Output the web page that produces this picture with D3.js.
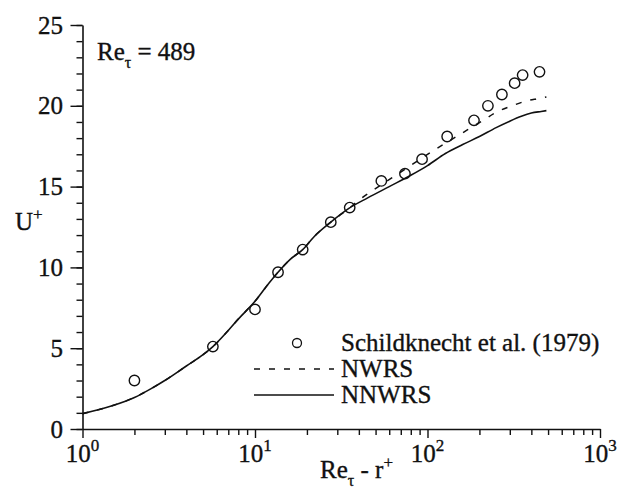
<!DOCTYPE html>
<html>
<head>
<meta charset="utf-8">
<script src="https://cdn.jsdelivr.net/npm/d3@7/dist/d3.min.js"></script>
<style>
  html, body { margin: 0; padding: 0; background: #fff; }
  svg { display: block; }
  text { font-family: "Liberation Serif", "Times New Roman", Times, serif; fill: #111; stroke: #111; stroke-width: 0.35px; }
</style>
</head>
<body>
<svg id="chart" width="620" height="489"></svg>
<script>
// Mean velocity profile in wall units, pipe flow at Re_tau = 489

// Measurements (open circles)
const obsX = [2.0, 5.7, 10.0, 13.6, 18.9, 27.5, 35.4, 54, 74, 93, 130, 186, 224, 270, 320, 356, 446];
const obsU = [3.0, 5.1, 7.4, 9.7, 11.1, 12.8, 13.7, 15.35, 15.8, 16.7, 18.1, 19.1, 20.0, 20.7, 21.4, 21.9, 22.1];

// NNWRS model (solid)
const nnwrsX = [1, 1.5, 2, 2.5, 3, 4, 5, 5.7, 7, 8, 10, 12, 13.6, 16, 18.9, 22, 27.5, 35, 45, 60, 80, 100, 127, 160, 200, 250, 300, 350, 400, 456, 489];
const nnwrsU = [0.95, 1.45, 1.95, 2.5, 3.0, 3.9, 4.6, 5.1, 6.1, 6.8, 7.9, 9.0, 9.7, 10.5, 11.1, 11.9, 12.8, 13.65, 14.3, 15.0, 15.7, 16.3, 17.05, 17.6, 18.1, 18.65, 19.05, 19.35, 19.55, 19.65, 19.7];

// NWRS model (dashed)
const nwrsX = [1, 1.5, 2, 2.5, 3, 4, 5, 5.7, 7, 8, 10, 12, 13.6, 16, 18.9, 22, 27.5, 35, 41, 52, 70, 100, 150, 210, 250, 300, 375, 440, 489];
const nwrsU = [0.95, 1.45, 1.95, 2.5, 3.0, 3.9, 4.6, 5.1, 6.1, 6.8, 7.9, 9.0, 9.7, 10.5, 11.1, 11.9, 12.8, 13.65, 14.25, 15.0, 15.9, 17.0, 18.15, 19.1, 19.6, 19.95, 20.3, 20.45, 20.55];

// Axis ticks
const xMajor = [1, 10, 100, 1000];
const xMajorExp = ["0", "1", "2", "3"];
const xMinor = [2,3,4,5,6,7,8,9, 20,30,40,50,60,70,80,90, 200,300,400,500,600,700,800,900];
const yMajor = [0, 5, 10, 15, 20, 25];
const yMinor = d3.range(0, 26);

const legendLabels = ["Schildknecht et al. (1979)", "NWRS", "NNWRS"];

const svg = d3.select("#chart");
const ink = "#111";
const dash = "6,9";

const x = d3.scaleLog().domain([1, 1000]).range([82.5, 600]);
const y = d3.scaleLinear().domain([0, 25]).range([429, 25]);

// minor ticks
svg.append("g")
  .attr("transform", `translate(0,${y(0)})`)
  .call(d3.axisBottom(x).tickValues(xMinor).tickSize(6).tickFormat(""))
  .call(g => g.select(".domain").remove());
svg.append("g")
  .attr("transform", `translate(${x(1)},0)`)
  .call(d3.axisLeft(y).tickValues(yMinor).tickSize(6).tickFormat(""))
  .call(g => g.select(".domain").remove());

// major ticks + axis lines
svg.append("g")
  .attr("transform", `translate(0,${y(0)})`)
  .call(d3.axisBottom(x).tickValues(xMajor).tickSize(9).tickSizeOuter(0).tickFormat(""));
svg.append("g")
  .attr("transform", `translate(${x(1)},0)`)
  .call(d3.axisLeft(y).tickValues(yMajor).tickSize(12).tickSizeOuter(0).tickFormat(""));

svg.selectAll(".tick line").attr("stroke", ink).attr("stroke-width", 1.4);
svg.selectAll(".domain").attr("stroke", ink).attr("stroke-width", 1.6);

// x tick labels: 10^k, centred as a whole on the tick
xMajor.forEach((v, i) => {
  const t = svg.append("text")
    .attr("x", x(v))
    .attr("y", 462)
    .attr("text-anchor", "middle")
    .attr("font-size", 25);
  t.append("tspan").text("10");
  t.append("tspan").attr("font-size", 17).attr("dy", -11).text(xMajorExp[i]);
});

// y tick labels
yMajor.forEach(v => {
  svg.append("text")
    .attr("x", 63)
    .attr("y", y(v) + 8.5)
    .attr("text-anchor", "end")
    .attr("font-size", 25)
    .text(v);
});

// axis titles
const xt = svg.append("text").attr("x", 320).attr("y", 478).attr("font-size", 25);
xt.append("tspan").text("Re");
xt.append("tspan").attr("font-size", 16).attr("dy", 8).text("τ");
xt.append("tspan").attr("dy", -8).text(" - r");
xt.append("tspan").attr("font-size", 17).attr("dy", -10).text("+");

const yt = svg.append("text").attr("x", 15).attr("y", 230).attr("font-size", 25);
yt.append("tspan").text("U");
yt.append("tspan").attr("font-size", 17).attr("dy", -10).text("+");

// Reynolds number annotation
const rt = svg.append("text").attr("x", 97).attr("y", 60).attr("font-size", 25);
rt.append("tspan").text("Re");
rt.append("tspan").attr("font-size", 16).attr("dy", 8).text("τ");
rt.append("tspan").attr("dy", -8).text(" = 489");

// model curves
const lineGen = d3.line()
  .x(d => x(d[0]))
  .y(d => y(d[1]))
  .curve(d3.curveMonotoneX);

svg.append("path")
  .datum(nwrsX.map((v, i) => [v, nwrsU[i]]))
  .attr("d", lineGen)
  .attr("fill", "none")
  .attr("stroke", ink)
  .attr("stroke-width", 1.5)
  .attr("stroke-dasharray", dash);

svg.append("path")
  .datum(nnwrsX.map((v, i) => [v, nnwrsU[i]]))
  .attr("d", lineGen)
  .attr("fill", "none")
  .attr("stroke", ink)
  .attr("stroke-width", 1.6);

// measurements
svg.append("g")
  .selectAll("circle")
  .data(obsX.map((v, i) => [v, obsU[i]]))
  .join("circle")
  .attr("cx", d => x(d[0]))
  .attr("cy", d => y(d[1]))
  .attr("r", 5.2)
  .attr("fill", "none")
  .attr("stroke", ink)
  .attr("stroke-width", 1.4);

// legend
const lg = svg.append("g");
lg.append("circle").attr("cx", 297).attr("cy", 343).attr("r", 4.5)
  .attr("fill", "none").attr("stroke", ink).attr("stroke-width", 1.3);
lg.append("line").attr("x1", 254).attr("x2", 334).attr("y1", 369).attr("y2", 369)
  .attr("stroke", ink).attr("stroke-width", 1.5).attr("stroke-dasharray", dash);
lg.append("line").attr("x1", 254).attr("x2", 334).attr("y1", 395).attr("y2", 395)
  .attr("stroke", ink).attr("stroke-width", 1.6);
[351, 377, 403].forEach((by, i) => {
  lg.append("text").attr("x", 341).attr("y", by).attr("font-size", 25).text(legendLabels[i]);
});
</script>
</body>
</html>
